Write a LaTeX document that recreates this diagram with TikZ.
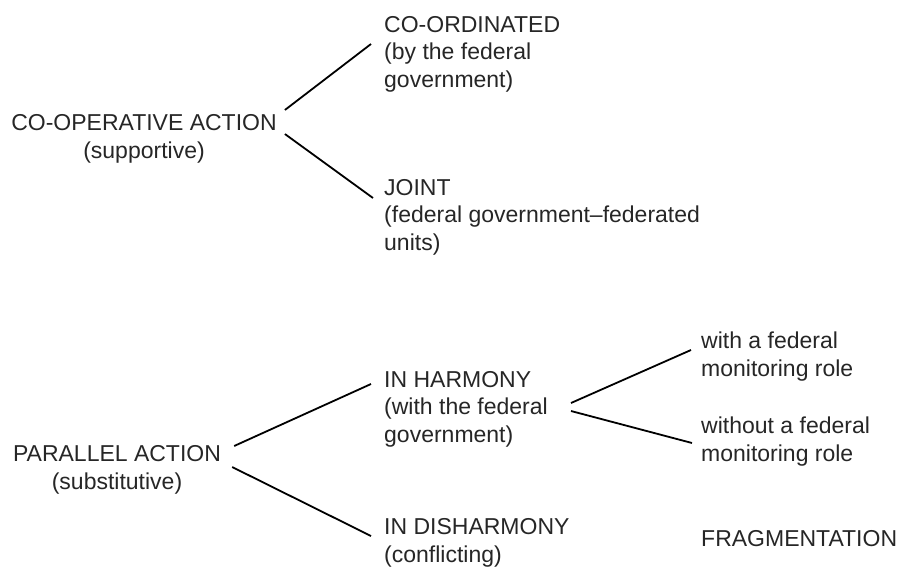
\documentclass[tikz,border=0pt]{standalone}
\usepackage{fontspec}
\setmainfont{Liberation Sans}
\usetikzlibrary{calc}
\begin{document}
\begin{tikzpicture}[x=1pt,y=-1pt,
  txt/.style={inner sep=0pt,text=black!85,font=\fontsize{23}{27.5}\selectfont},
  lbox/.style={txt,align=left,anchor=base west},
  cbox/.style={txt,align=center,anchor=base},
  link/.style={draw=black,line width=1.8pt}]
\useasboundingbox (0,0) rectangle (898,566);
% nodes (anchored at the baseline of their last line)
\node[cbox] (coop) at (144,158) {CO-OPERATIVE ACTION\\(supportive)};
\node[lbox] (coord) at (384,87) {CO-ORDINATED\\(by the federal\\government)};
\node[lbox] (joint) at (384,250) {JOINT\\(federal government--federated\\units)};
\node[cbox] (par) at (117,489) {PARALLEL ACTION\\(substitutive)};
\node[lbox] (harm) at (384,442) {IN HARMONY\\(with the federal\\government)};
\node[lbox] (dis) at (384,562) {IN DISHARMONY\\(conflicting)};
\node[lbox] (withr) at (701,376) {with a federal\\monitoring role};
\node[lbox] (without) at (701,461) {without a federal\\monitoring role};
\node[lbox] (frag) at (701,546) {FRAGMENTATION};
% connectors
\draw[link] ($(coop.base east)+(8,-48)$) -- ($(coord.base west)+(-13,-43)$);
\draw[link] ($(coop.base east)+(8,-24)$) -- ($(joint.base west)+(-11,-52)$);
\draw[link] ($(par.base east)+(13,-43)$) -- ($(harm.base west)+(-13,-58)$);
\draw[link] ($(par.base east)+(11,-22)$) -- ($(dis.base west)+(-13,-26)$);
\draw[link] ($(harm.base west)+(187,-39)$) -- ($(withr.base west)+(-10,-26)$);
\draw[link] ($(harm.base west)+(187,-31)$) -- ($(without.base west)+(-9,-18)$);
\end{tikzpicture}
\end{document}
